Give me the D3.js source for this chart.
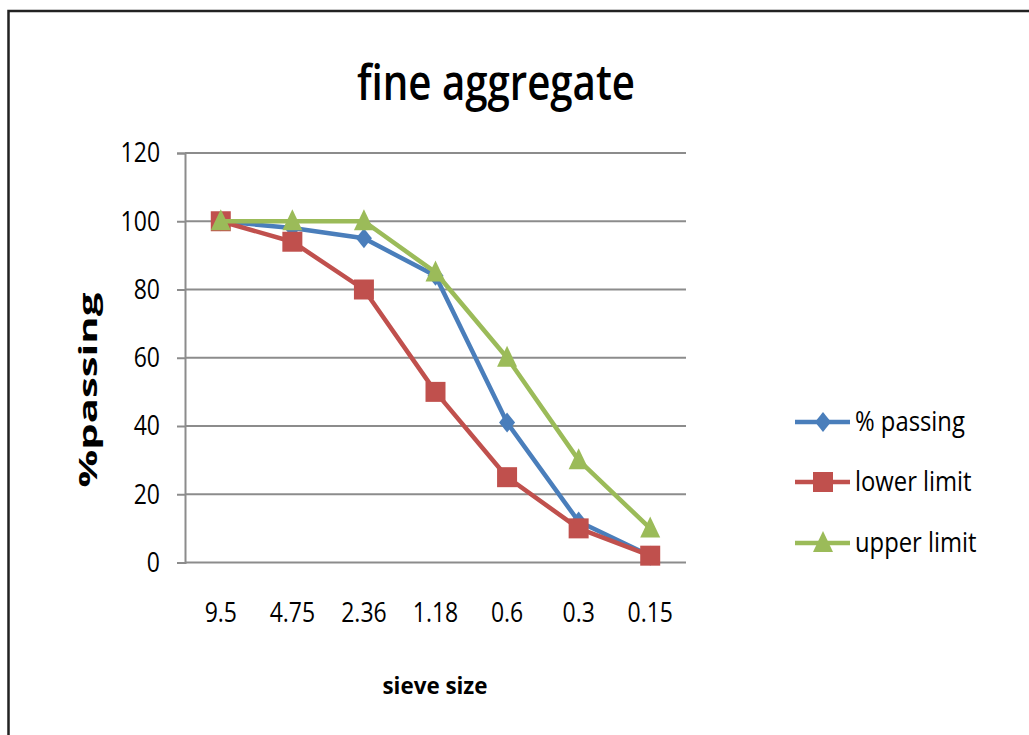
<!DOCTYPE html>
<html>
<head>
<meta charset="utf-8">
<script src="https://cdn.jsdelivr.net/npm/d3@7"></script>
<style>
  body { margin: 0; background: #fff; }
  text { font-family: "Open Sans", sans-serif; fill: #000; }
</style>
</head>
<body>
<div id="chart"></div>
<script>
// chart data
const sieveSizes = ["9.5", "4.75", "2.36", "1.18", "0.6", "0.3", "0.15"];
const pctPassing = [100, 98, 95, 84, 41, 12, 2];
const lowerLimit = [100, 94, 80, 50, 25, 10, 2];
const upperLimit = [100, 100, 100, 85, 60, 30, 10];
const seriesNames = ["% passing", "lower limit", "upper limit"];
const yTicks = [0, 20, 40, 60, 80, 100, 120];

let width = 1029;
let height = 735;

let svg = d3.select("#chart")
    .append("svg")
    .attr("width", width)
    .attr("height", height);

// outer frame (runs off the right and bottom edge)
svg.append("rect")
    .attr("x", 8.5).attr("y", 11)
    .attr("width", 1060).attr("height", 760)
    .attr("fill", "none")
    .attr("stroke", "#222")
    .attr("stroke-width", 2.5);

// squeeze text horizontally, the original font is narrow
function condense(sel, k) {
    sel.each(function () {
        let w = this.getComputedTextLength();
        d3.select(this)
            .attr("textLength", w * k)
            .attr("lengthAdjust", "spacingAndGlyphs");
    });
}

let xScale = d3.scaleBand()
    .domain(sieveSizes)
    .range([185, 686]);

let yScale = d3.scaleLinear()
    .domain([0, 120])
    .range([562.5, 153]);

// gridlines
svg.append("g")
    .selectAll("line")
    .data(yTicks)
    .enter()
    .append("line")
    .attr("x1", 185).attr("x2", 686)
    .attr("y1", d => yScale(d)).attr("y2", d => yScale(d))
    .attr("stroke", "#8c8c8c")
    .attr("stroke-width", 2);

// y axis
let yAxis = d3.axisLeft(yScale).tickValues(yTicks).tickSize(8).tickPadding(17);
let gy = svg.append("g")
    .attr("transform", "translate(185,0)")
    .call(yAxis);
gy.select(".domain").attr("stroke", "#8c8c8c").attr("stroke-width", 2);
gy.selectAll(".tick line").attr("stroke", "#8c8c8c").attr("stroke-width", 2);
gy.selectAll(".tick text")
    .style("font-family", "'Open Sans', sans-serif")
    .style("font-size", "28px")
    .style("font-weight", 500)
    .attr("fill", "#000")
    .call(condense, 0.82);

// x axis labels
let xAxis = d3.axisBottom(xScale).tickSize(0).tickPadding(40);
let gx = svg.append("g")
    .attr("transform", "translate(0,562.5)")
    .call(xAxis);
gx.select(".domain").remove();
gx.selectAll(".tick text")
    .style("font-family", "'Open Sans', sans-serif")
    .style("font-size", "28px")
    .style("font-weight", 500)
    .attr("fill", "#000")
    .call(condense, 0.82);

// title
svg.append("text")
    .attr("x", 496).attr("y", 100)
    .attr("text-anchor", "middle")
    .style("font-size", "48px")
    .style("font-weight", 600)
    .attr("textLength", 278)
    .attr("lengthAdjust", "spacingAndGlyphs")
    .text("fine aggregate");

// axis titles
svg.append("text")
    .attr("transform", "translate(97,390) rotate(-90) scale(1,0.78)")
    .attr("text-anchor", "middle")
    .style("font-size", "31px")
    .style("font-weight", "bold")
    .attr("textLength", 195)
    .attr("lengthAdjust", "spacingAndGlyphs")
    .text("%passing");

svg.append("text")
    .attr("x", 435).attr("y", 694)
    .attr("text-anchor", "middle")
    .style("font-size", "24px")
    .style("font-weight", "bold")
    .attr("textLength", 105)
    .attr("lengthAdjust", "spacingAndGlyphs")
    .text("sieve size");

// series
let series = [
    { name: seriesNames[0], values: pctPassing, color: "#4a7ebb", shape: "diamond" },
    { name: seriesNames[1], values: lowerLimit, color: "#c0504d", shape: "square" },
    { name: seriesNames[2], values: upperLimit, color: "#9bbb59", shape: "triangle" }
];

function markerPath(shape) {
    if (shape == "diamond") return "M0,-10L8,0L0,10L-8,0Z";
    if (shape == "square") return "M-10,-10L10,-10L10,10L-10,10Z";
    return "M0,-12L10,9L-10,9Z";
}

let line = d3.line()
    .x((d, i) => xScale(sieveSizes[i]) + xScale.bandwidth() / 2)
    .y(d => yScale(d));

series.forEach(s => {
    svg.append("path")
        .datum(s.values)
        .attr("d", line)
        .attr("fill", "none")
        .attr("stroke", s.color)
        .attr("stroke-width", 4.5)
        .attr("stroke-linejoin", "round");

    svg.append("g")
        .selectAll("path")
        .data(s.values)
        .enter()
        .append("path")
        .attr("d", markerPath(s.shape))
        .attr("transform", (d, i) => "translate(" + (xScale(sieveSizes[i]) + xScale.bandwidth() / 2) + "," + yScale(d) + ")")
        .attr("fill", s.color);
});

// legend
let legendY = [422, 482, 543];
series.forEach((s, i) => {
    let g = svg.append("g").attr("transform", "translate(0," + legendY[i] + ")");
    g.append("line")
        .attr("x1", 795).attr("x2", 850)
        .attr("stroke", s.color)
        .attr("stroke-width", 4.5);
    g.append("path")
        .attr("d", markerPath(s.shape))
        .attr("transform", "translate(823,0)")
        .attr("fill", s.color);
    g.append("text")
        .attr("x", 855).attr("y", 9)
        .style("font-size", "28px")
        .style("font-weight", 500)
        .text(s.name)
        .call(condense, 0.85);
});
</script>
</body>
</html>
